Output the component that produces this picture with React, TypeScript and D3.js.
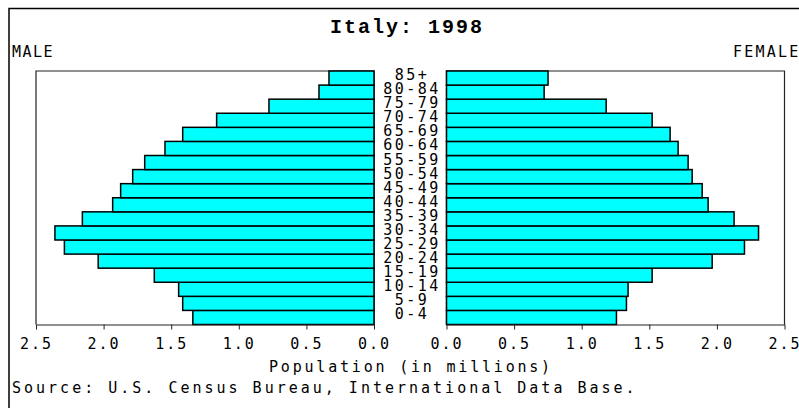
import React, { useEffect, useRef } from "react";
import * as d3 from "d3";

const ages = [
  "0-4", "5-9", "10-14", "15-19", "20-24", "25-29", "30-34", "35-39", "40-44",
  "45-49", "50-54", "55-59", "60-64", "65-69", "70-74", "75-79", "80-84", "85+",
];
// population in millions, same order as ages
const male = [
  1.34, 1.415, 1.445, 1.625, 2.04, 2.29, 2.36, 2.157, 1.933,
  1.874, 1.785, 1.696, 1.546, 1.415, 1.164, 0.777, 0.407, 0.333,
];
const female = [
  1.257, 1.331, 1.343, 1.521, 1.965, 2.204, 2.308, 2.127, 1.935,
  1.891, 1.817, 1.787, 1.713, 1.654, 1.521, 1.181, 0.722, 0.751,
];
const tickValues = [0, 0.5, 1.0, 1.5, 2.0, 2.5];

const MONO = "'DejaVu Sans Mono', monospace";

export default function App() {
  const ref = useRef<SVGSVGElement>(null);

  useEffect(() => {
    const svg = d3.select(ref.current);
    svg.selectAll("*").remove();

    const W = 799, H = 408;
    const top = 71, bottom = 324.5;

    // outer frame
    svg.append("rect")
      .attr("x", 9).attr("y", 8.5)
      .attr("width", W).attr("height", H)
      .attr("fill", "none").attr("stroke", "black").attr("stroke-width", 1.5);

    svg.append("text")
      .text("Italy: 1998")
      .attr("x", 407).attr("y", 33)
      .attr("text-anchor", "middle")
      .style("font-family", "'Liberation Mono', 'Courier New', monospace")
      .style("font-weight", "bold")
      .style("font-size", "20px")
      .style("letter-spacing", "2px");

    svg.append("text").text("MALE")
      .attr("x", 12).attr("y", 57)
      .style("font-family", MONO).style("font-size", "15px")
      .style("letter-spacing", "1.5px");
    svg.append("text").text("FEMALE")
      .attr("x", 733).attr("y", 57)
      .style("font-family", MONO).style("font-size", "15px")
      .style("letter-spacing", "2.2px");

    var y = d3.scaleBand<string>()
      .domain(ages.slice().reverse())
      .range([top, bottom])
      .padding(0);

    var panels = [
      { values: male, x: d3.scaleLinear().domain([0, 2.5]).range([374, 36]) },
      { values: female, x: d3.scaleLinear().domain([0, 2.5]).range([446.5, 784.5]) },
    ];

    panels.forEach(function (p) {
      var x = p.x;
      var g = svg.append("g");
      var x0 = x(0), x1 = x(2.5);
      var lo = Math.min(x0, x1), hi = Math.max(x0, x1);

      // panel box (top and sides)
      g.append("path")
        .attr("d", "M" + lo + "," + bottom + "V" + top + "H" + hi + "V" + bottom)
        .attr("fill", "none")
        .attr("stroke", "#222")
        .attr("stroke-width", 1.2);

      g.selectAll(".bar")
        .data(p.values)
        .enter()
        .append("rect")
        .attr("class", "bar")
        .attr("x", function (d) { return Math.min(x(0), x(d)); })
        .attr("width", function (d) { return Math.abs(x(d) - x(0)); })
        .attr("y", function (_d, i) { return y(ages[i]) as number; })
        .attr("height", y.bandwidth())
        .attr("fill", "#00ffff")
        .attr("stroke", "black")
        .attr("stroke-width", 1.5);

      var axis = g.append("g")
        .attr("transform", "translate(0," + bottom + ")")
        .call(
          d3.axisBottom(x)
            .tickValues(tickValues)
            .tickSize(5)
            .tickSizeOuter(0)
            .tickFormat(d3.format(".1f"))
        );
      axis.select(".domain").attr("stroke", "#222").attr("stroke-width", 1.2);
      axis.selectAll(".tick line").attr("stroke", "#222");
      axis.selectAll(".tick text")
        .attr("y", 24)
        .attr("dy", null)
        .attr("fill", "black")
        .style("font-family", MONO)
        .style("font-size", "15px")
        .style("letter-spacing", "2px");
    });

    // age labels in the gap
    svg.append("g")
      .selectAll("text")
      .data(ages)
      .enter()
      .append("text")
      .text(function (d) { return d; })
      .attr("x", 412)
      .attr("y", function (d) { return (y(d) as number) + y.bandwidth() / 2 + 2; })
      .attr("text-anchor", "middle")
      .style("font-family", MONO)
      .style("font-size", "15px")
      .style("letter-spacing", "2.5px");

    svg.append("text")
      .text("Population (in millions)")
      .attr("x", 411).attr("y", 372)
      .attr("text-anchor", "middle")
      .style("font-family", MONO).style("font-size", "15px")
      .style("letter-spacing", "2.8px");

    svg.append("text")
      .text("Source: U.S. Census Bureau, International Data Base.")
      .attr("x", 12).attr("y", 393)
      .style("font-family", MONO).style("font-size", "15px")
      .style("letter-spacing", "3px");
  }, []);

  return (
    <svg
      ref={ref}
      width={799}
      height={408}
      style={{ position: "absolute", left: 0, top: 0, background: "white" }}
    />
  );
}
